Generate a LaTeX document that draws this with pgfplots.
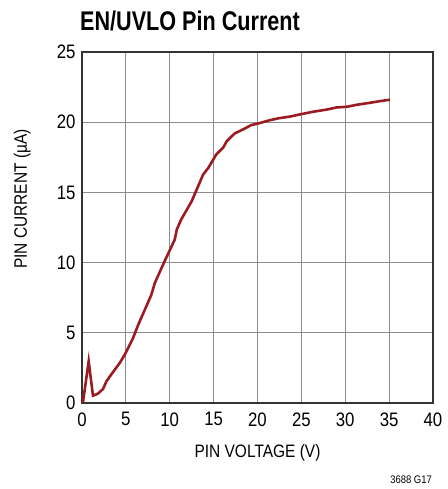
\documentclass[border=0pt]{standalone}
\usepackage{fontspec}
\setmainfont{Liberation Sans}[FakeStretch=0.86]
\newfontfamily\titlefont{Liberation Sans}[FakeStretch=0.8]
\usepackage{pgfplots}
\pgfplotsset{compat=1.18}
\definecolor{curvered}{HTML}{9B1B20}
\begin{document}
\begin{tikzpicture}
\useasboundingbox (-82pt,-86pt) rectangle (365pt,403pt);
\begin{axis}[
    scale only axis,
    width=351pt, height=351pt,
    xmin=0, xmax=40,
    ymin=0, ymax=25,
    xtick={0,5,...,40},
    ytick={0,5,...,25},
    grid=major,
    major grid style={gray!90, line width=0.9pt},
    axis line style={black!80, line width=1.3pt},
    major tick length=0pt,
    /pgf/number format/assume math mode=true,
    tick label style={font=\fontsize{19.5}{22}\selectfont},
    xticklabel style={yshift=-6pt},
    yticklabel style={xshift=-3pt},
    clip=false,
]
\addplot[curvered, line width=2.6pt] coordinates {
(0.1,0) (0.76,2.97) (1.25,0.52) (1.8,0.66) (2.4,1.0) (2.78,1.54)
(3.3,2.0) (4.3,2.85) (4.87,3.44) (5.8,4.6) (6.4,5.56) (7.9,7.7)
(8.3,8.55) (9.24,9.86) (10.57,11.64) (10.8,12.35) (11.3,13.06)
(12.5,14.37) (13.4,15.68) (13.8,16.27) (14.4,16.75) (15.3,17.7)
(16.1,18.2) (16.5,18.65) (17.4,19.2) (18.4,19.5) (19.3,19.8)
(19.9,19.88) (20.6,20.0) (21.4,20.14) (22.4,20.28) (23.7,20.4)
(24.8,20.55) (26.3,20.74) (27.9,20.9) (29.0,21.05) (30.2,21.1)
(31.3,21.24) (32.8,21.38) (33.95,21.5) (35.1,21.6)
};
\end{axis}
\node[anchor=base west, inner sep=0pt, font=\titlefont\bfseries\fontsize{27}{31}\selectfont] at (-2pt,372pt) {EN/UVLO Pin Current};
\node[anchor=base, inner sep=0pt, font=\fontsize{18}{21}\selectfont] at (175.5pt,-55pt) {PIN VOLTAGE (V)};
\node[rotate=90, anchor=base, inner sep=0pt, font=\fontsize{18}{21}\selectfont] at (-55pt,204pt) {PIN CURRENT (\textmu A)};
\node[anchor=base east, inner sep=0pt, font=\fontsize{11}{13}\selectfont] at (350pt,-80pt) {3688 G17};
\end{tikzpicture}
\end{document}
